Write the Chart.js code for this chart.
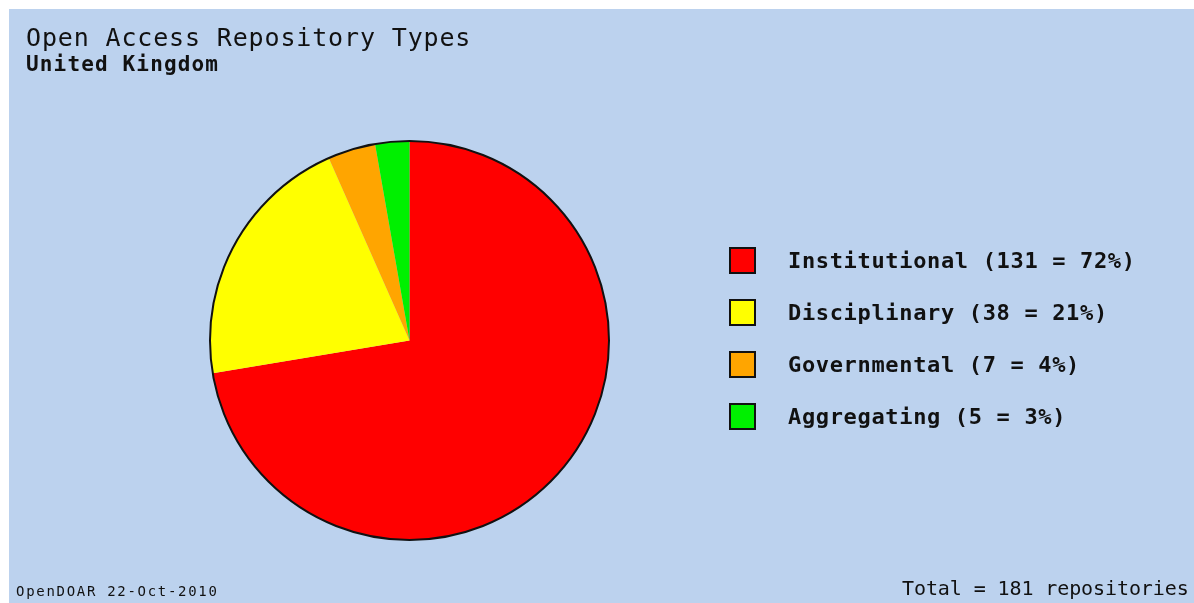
<!DOCTYPE html>
<html>
<head>
<meta charset="utf-8">
<script src="https://cdn.jsdelivr.net/npm/chart.js@4/dist/chart.umd.min.js"></script>
<style>
  html, body { margin: 0; padding: 0; background: #ffffff; }
  #wrap { position: relative; width: 1194px; height: 603px; overflow: hidden; }
  #bg { position: absolute; left: 9px; top: 9px; right: 0; bottom: 0; background: #bcd2ee; }
  canvas { position: absolute; left: 0; top: 0; }
  .t { position: absolute; white-space: pre; line-height: 1; font-family: "DejaVu Sans Mono", "Liberation Mono", monospace; color: #111; }
  #title { left: 26px; top: 25px; font-size: 25px; letter-spacing: 0.85px; }
  #subtitle { left: 26px; top: 54px; font-size: 21px; font-weight: bold; letter-spacing: 1.15px; }
  #footL { left: 16px; top: 584px; font-size: 14px; letter-spacing: 1.7px; }
  #footR { left: 902px; top: 578px; font-size: 20px; letter-spacing: -0.1px; }
  .lbox { position: absolute; left: 729px; width: 27px; height: 27px; box-sizing: border-box; border: 2px solid #111; }
  .ltxt { position: absolute; left: 788px; font-size: 22px; font-weight: bold; letter-spacing: 0.66px; }
</style>
</head>
<body>
<div id="wrap">
  <div id="bg"></div>
  <canvas id="c" width="1194" height="603"></canvas>
  <div class="t" id="title"></div>
  <div class="t" id="subtitle"></div>
  <div class="t" id="footL"></div>
  <div class="t" id="footR"></div>
</div>
<script>
const titleText = "Open Access Repository Types";
const subtitleText = "United Kingdom";
const sourceText = "OpenDOAR 22-Oct-2010";
const categories = ["Institutional", "Disciplinary", "Governmental", "Aggregating"];
const counts = [131, 38, 7, 5];
const colors = ["#ff0000", "#ffff00", "#ffa500", "#00f000"];

const total = counts.reduce((a, b) => a + b, 0);

document.getElementById('title').textContent = titleText;
document.getElementById('subtitle').textContent = subtitleText;
document.getElementById('footL').textContent = sourceText;
document.getElementById('footR').textContent = "Total = " + total + " repositories";

const wrap = document.getElementById('wrap');
categories.forEach((cat, i) => {
  const box = document.createElement('div');
  box.className = 'lbox';
  box.style.top = (247 + i * 52) + 'px';
  box.style.background = colors[i];
  wrap.appendChild(box);
  const txt = document.createElement('div');
  txt.className = 't ltxt';
  txt.style.top = (250 + i * 52) + 'px';
  txt.textContent = cat + " (" + counts[i] + " = " + Math.round(counts[i] / total * 100) + "%)";
  wrap.appendChild(txt);
});

const outline = {
  id: 'outline',
  afterDatasetsDraw(chart) {
    const arc = chart.getDatasetMeta(0).data[0];
    if (!arc) return;
    const ctx = chart.ctx;
    ctx.save();
    ctx.beginPath();
    ctx.arc(arc.x, arc.y, arc.outerRadius, 0, Math.PI * 2);
    ctx.lineWidth = 2;
    ctx.strokeStyle = '#111';
    ctx.stroke();
    ctx.restore();
  }
};

new Chart(document.getElementById('c'), {
  type: 'pie',
  data: {
    labels: categories,
    datasets: [{
      data: counts,
      backgroundColor: colors,
      borderWidth: 0,
      hoverOffset: 0
    }]
  },
  options: {
    responsive: false,
    animation: false,
    devicePixelRatio: 1,
    layout: { padding: { top: 141, bottom: 63, left: 210, right: 585 } },
    plugins: {
      legend: { display: false },
      tooltip: { enabled: false },
      title: { display: false }
    }
  },
  plugins: [outline]
});
</script>
</body>
</html>
